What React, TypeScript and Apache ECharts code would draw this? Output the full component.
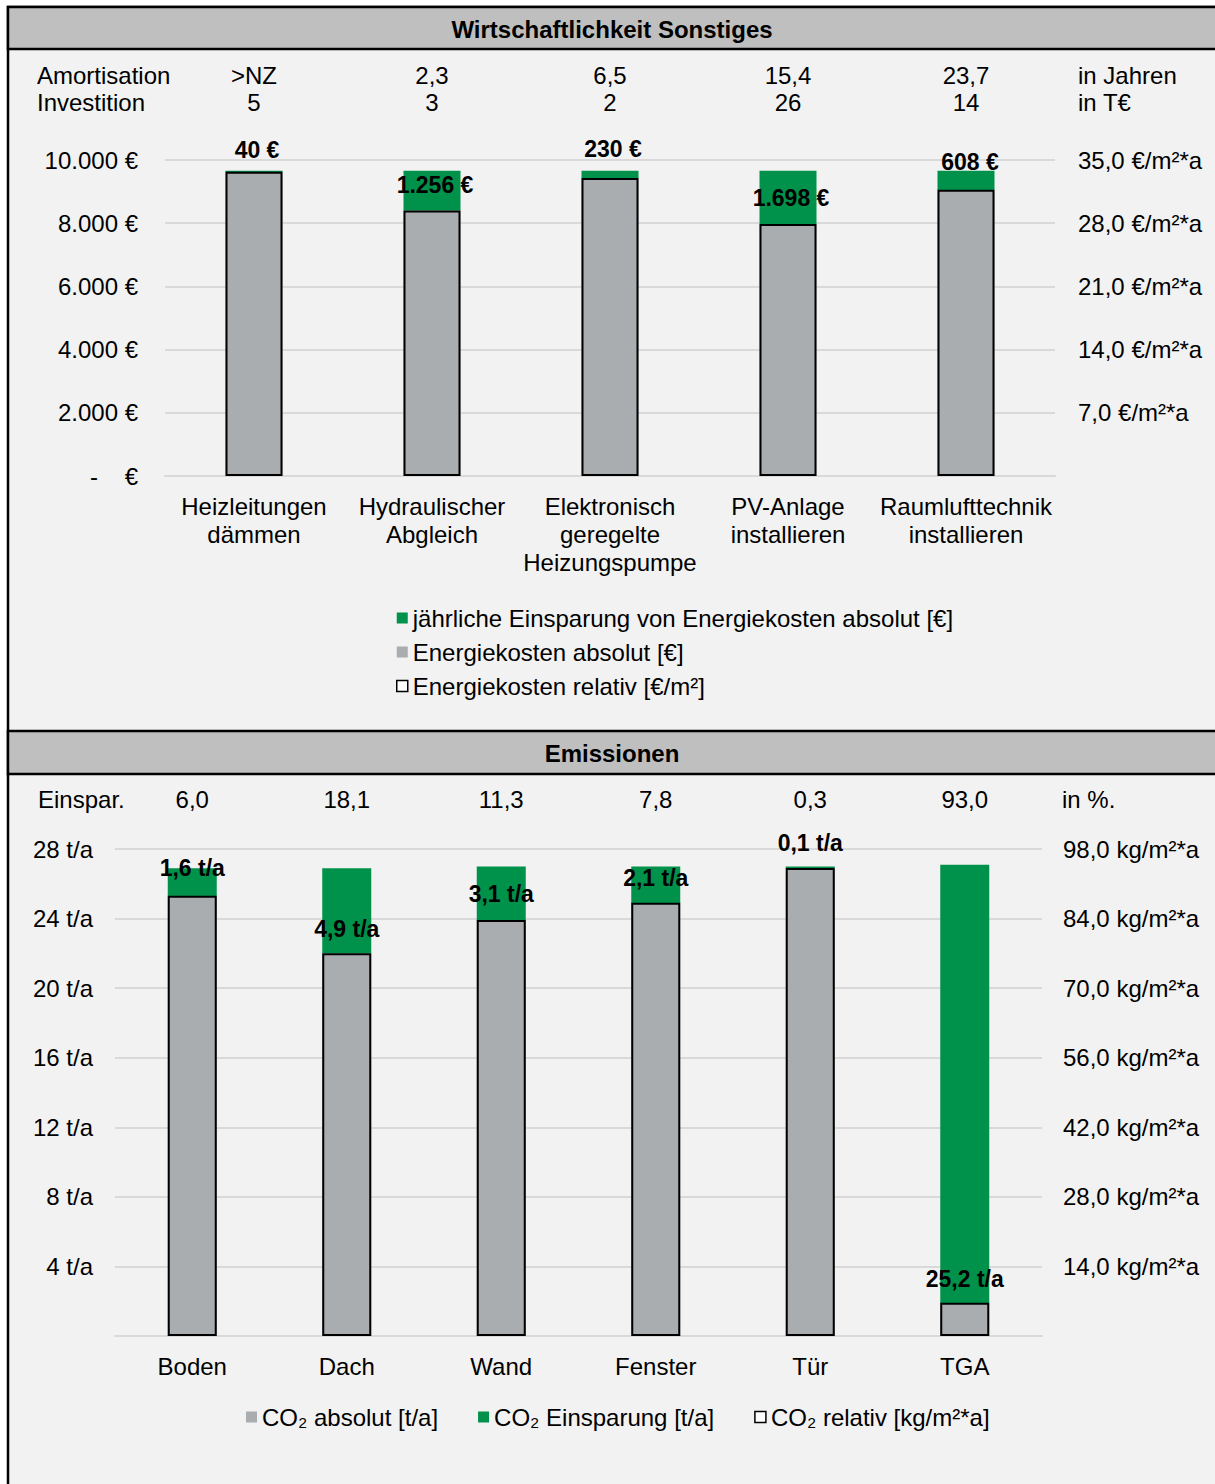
import React, { useEffect, useRef } from "react";
import * as echarts from "echarts";

// ---------- Data: Wirtschaftlichkeit Sonstiges ----------
const topCategories = [
  "Heizleitungen\ndämmen",
  "Hydraulischer\nAbgleich",
  "Elektronisch\ngeregelte\nHeizungspumpe",
  "PV-Anlage\ninstallieren",
  "Raumlufttechnik\ninstallieren",
];
const amortisation = [">NZ", "2,3", "6,5", "15,4", "23,7"];
const investition = ["5", "3", "2", "26", "14"];
const energiekostenAbsolut = [9620, 8404, 9430, 7962, 9052];
const einsparungEnergiekosten = [40, 1256, 230, 1698, 608];
const energiekostenRelativ = [33.7, 29.4, 33.0, 27.9, 31.7];

// ---------- Data: Emissionen ----------
const emCategories = ["Boden", "Dach", "Wand", "Fenster", "Tür", "TGA"];
const einsparProzent = ["6,0", "18,1", "11,3", "7,8", "0,3", "93,0"];
const co2Absolut = [25.3, 22.0, 23.9, 24.9, 26.9, 1.9];
const co2Einsparung = [1.6, 4.9, 3.1, 2.1, 0.1, 25.2];
const co2Relativ = [88.6, 77.0, 83.7, 87.2, 94.2, 6.7];

// label nudges (manual placements as in the original)
const topLabelOffsets = [[3, -21], [3, -6], [3, -25], [3, 0], [4, -18]];
const emLabelOffsets = [[0, -14], [0, 18], [0, 1], [0, -7], [0, -24], [0, 195]];

const FONT = "'Liberation Sans', Arial, sans-serif";
const GREEN = "#00914A";
const GREY = "#A9ADB0";
const GRID = "#D9D9D9";
const BG = "#F2F2F2";
const FS = 24;
const FSB = 23;

function thousands(v: number): string {
  const s = Math.round(v).toString();
  return s.replace(/\B(?=(\d{3})+(?!\d))/g, ".");
}
function comma(v: number, d: number): string {
  return v.toFixed(d).replace(".", ",");
}

export default function App() {
  const ref = useRef<HTMLDivElement>(null);
  useEffect(() => {
    if (!ref.current) return;
    const chart = echarts.init(ref.current, undefined, { renderer: "svg" });
    const txt = { fontFamily: FONT, fontSize: FS, color: "#000" };
    const gtext = (text: string, x: number, y: number, align = "left", bold = false) => ({
      type: "text",
      x,
      y,
      style: {
        text,
        font: `${bold ? "bold " : ""}${FS}px ${FONT}`,
        fill: "#000",
        align,
        verticalAlign: "middle",
      },
    });

    const option: any = {
      animation: false,
      backgroundColor: "#fff",
      textStyle: { fontFamily: FONT },
      graphic: [
        {
          type: "rect",
          z: -10,
          shape: { x: 8, y: 7, width: 1220, height: 1490 },
          style: { fill: BG, stroke: "#000", lineWidth: 2.5 },
        },
        {
          type: "rect",
          z: -9,
          shape: { x: 8, y: 7, width: 1220, height: 42 },
          style: { fill: "#BFBFBF", stroke: "#000", lineWidth: 2.5 },
        },
        {
          type: "rect",
          z: -9,
          shape: { x: 8, y: 731, width: 1220, height: 43 },
          style: { fill: "#BFBFBF", stroke: "#000", lineWidth: 2.5 },
        },
        gtext("Wirtschaftlichkeit Sonstiges", 612, 29, "center", true),
        gtext("Emissionen", 612, 753, "center", true),
        gtext("Amortisation", 37, 75),
        gtext("Investition", 37, 102),
        gtext("in Jahren", 1078, 75),
        gtext("in T€", 1078, 102),
        gtext("Einspar.", 38, 799),
        gtext("in %.", 1062, 799),
      ],
      legend: [
        {
          orient: "vertical",
          left: 396,
          top: 606,
          padding: 0,
          itemGap: 10,
          itemWidth: 11,
          itemHeight: 11,
          icon: "rect",
          textStyle: { ...txt, lineHeight: 24 },
          data: [
            { name: "jährliche Einsparung von Energiekosten absolut [€]", icon: "rect", itemStyle: { color: GREEN, borderWidth: 0 } },
            { name: "Energiekosten absolut [€]", icon: "rect", itemStyle: { color: GREY, borderWidth: 0 } },
            { name: "Energiekosten relativ [€/m²]", icon: "rect", itemStyle: { color: "#fff", borderColor: "#000", borderWidth: 1.5 } },
          ],
        },
        {
          orient: "horizontal",
          left: 246,
          top: 1405,
          padding: 0,
          itemGap: 40,
          itemWidth: 11,
          itemHeight: 11,
          icon: "rect",
          textStyle: { ...txt, lineHeight: 24 },
          data: [
            { name: "CO₂ absolut [t/a]", icon: "rect", itemStyle: { color: GREY, borderWidth: 0 } },
            { name: "CO₂ Einsparung [t/a]", icon: "rect", itemStyle: { color: GREEN, borderWidth: 0 } },
            { name: "CO₂ relativ [kg/m²*a]", icon: "rect", itemStyle: { color: "#fff", borderColor: "#000", borderWidth: 1.5 } },
          ],
        },
      ],
      grid: [
        { left: 165, right: 160, top: 160, height: 316 },
        { left: 115, right: 173, top: 849, height: 487 },
      ],
      xAxis: [
        {
          type: "category",
          gridIndex: 0,
          data: topCategories,
          axisLine: { lineStyle: { color: GRID, width: 2 } },
          axisTick: { show: false },
          axisLabel: { ...txt, interval: 0, margin: 16, lineHeight: 28 },
        },
        {
          type: "category",
          gridIndex: 0,
          position: "top",
          data: topCategories,
          axisLine: { show: false },
          axisTick: { show: false },
          axisLabel: {
            ...txt,
            interval: 0,
            margin: 44,
            lineHeight: 27,
            formatter: (_v: string, i: number) => `${amortisation[i]}\n${investition[i]}`,
          },
        },
        {
          type: "category",
          gridIndex: 1,
          data: emCategories,
          axisLine: { lineStyle: { color: GRID, width: 2 } },
          axisTick: { show: false },
          axisLabel: { ...txt, interval: 0, margin: 18, lineHeight: 24 },
        },
        {
          type: "category",
          gridIndex: 1,
          position: "top",
          data: emCategories,
          axisLine: { show: false },
          axisTick: { show: false },
          axisLabel: {
            ...txt,
            interval: 0,
            margin: 38,
            lineHeight: 24,
            formatter: (_v: string, i: number) => einsparProzent[i],
          },
        },
      ],
      yAxis: [
        {
          type: "value",
          gridIndex: 0,
          min: 0,
          max: 10000,
          interval: 2000,
          axisLine: { show: false },
          axisTick: { show: false },
          splitLine: { lineStyle: { color: GRID, width: 2 } },
          axisLabel: {
            ...txt,
            margin: 27,
            formatter: (v: number) => (v === 0 ? "-    €" : `${thousands(v)} €`),
          },
        },
        {
          type: "value",
          gridIndex: 0,
          position: "right",
          min: 0,
          max: 35,
          interval: 7,
          axisLine: { show: false },
          axisTick: { show: false },
          splitLine: { show: false },
          axisLabel: {
            ...txt,
            margin: 23,
            formatter: (v: number) => (v === 0 ? "" : `${comma(v, 1)} €/m²*a`),
          },
        },
        {
          type: "value",
          gridIndex: 1,
          min: 0,
          max: 28,
          interval: 4,
          axisLine: { show: false },
          axisTick: { show: false },
          splitLine: { lineStyle: { color: GRID, width: 2 } },
          axisLabel: {
            ...txt,
            margin: 22,
            formatter: (v: number) => (v === 0 ? "" : `${v} t/a`),
          },
        },
        {
          type: "value",
          gridIndex: 1,
          position: "right",
          min: 0,
          max: 98,
          interval: 14,
          axisLine: { show: false },
          axisTick: { show: false },
          splitLine: { show: false },
          axisLabel: {
            ...txt,
            margin: 21,
            formatter: (v: number) => (v === 0 ? "" : `${comma(v, 1)} kg/m²*a`),
          },
        },
      ],
      series: [
        {
          name: "Energiekosten absolut [€]",
          type: "bar",
          xAxisIndex: 0,
          yAxisIndex: 0,
          stack: "top",
          barWidth: 57,
          barGap: "-100%",
          itemStyle: { color: GREY },
          data: energiekostenAbsolut,
        },
        {
          name: "jährliche Einsparung von Energiekosten absolut [€]",
          type: "bar",
          xAxisIndex: 0,
          yAxisIndex: 0,
          stack: "top",
          barWidth: 57,
          barGap: "-100%",
          itemStyle: { color: GREEN },
          z: 3,
          label: {
            show: true,
            position: "inside",
            fontFamily: FONT,
            fontSize: FSB,
            fontWeight: "bold",
            color: "#000",
            formatter: (p: any) => `${thousands(p.value)} €`,
          },
          data: einsparungEnergiekosten.map((v, i) => ({ value: v, label: { offset: topLabelOffsets[i] } })),
        },
        {
          name: "Energiekosten relativ [€/m²]",
          type: "bar",
          xAxisIndex: 0,
          yAxisIndex: 1,
          barWidth: 57,
          barGap: "-100%",
          z: 4,
          itemStyle: { color: "transparent", borderColor: "#000", borderWidth: 2 },
          data: energiekostenRelativ,
        },
        {
          name: "CO₂ absolut [t/a]",
          type: "bar",
          xAxisIndex: 2,
          yAxisIndex: 2,
          stack: "em",
          barWidth: 49,
          barGap: "-100%",
          itemStyle: { color: GREY },
          data: co2Absolut,
        },
        {
          name: "CO₂ Einsparung [t/a]",
          type: "bar",
          xAxisIndex: 2,
          yAxisIndex: 2,
          stack: "em",
          barWidth: 49,
          barGap: "-100%",
          itemStyle: { color: GREEN },
          z: 3,
          label: {
            show: true,
            position: "inside",
            fontFamily: FONT,
            fontSize: FSB,
            fontWeight: "bold",
            color: "#000",
            formatter: (p: any) => `${comma(p.value, 1)} t/a`,
          },
          data: co2Einsparung.map((v, i) => ({ value: v, label: { offset: emLabelOffsets[i] } })),
        },
        {
          name: "CO₂ relativ [kg/m²*a]",
          type: "bar",
          xAxisIndex: 2,
          yAxisIndex: 3,
          barWidth: 49,
          barGap: "-100%",
          z: 4,
          itemStyle: { color: "transparent", borderColor: "#000", borderWidth: 2 },
          data: co2Relativ,
        },
      ],
    };
    chart.setOption(option);
    return () => chart.dispose();
  }, []);

  return (
    <div
      ref={ref}
      style={{ position: "absolute", left: 0, top: 0, width: 1215, height: 1484, background: "#fff" }}
    />
  );
}
